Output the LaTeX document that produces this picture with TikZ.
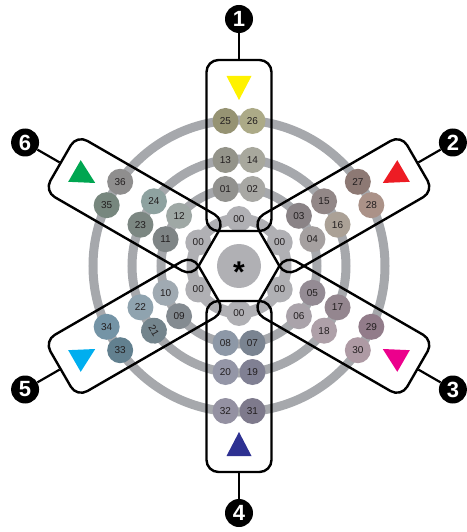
\documentclass[tikz,border=0pt]{standalone}
\usepackage{fontspec}
\setmainfont{Liberation Sans}
\usetikzlibrary{positioning,calc}
\definecolor{ringgrey}{RGB}{166,168,172}
\definecolor{hubgrey}{RGB}{176,176,180}
\definecolor{inkgrey}{RGB}{35,31,32}
% arm 1
\definecolor{c01}{RGB}{146,146,143}
\definecolor{c02}{RGB}{168,168,164}
\definecolor{c13}{RGB}{148,148,138}
\definecolor{c14}{RGB}{168,168,157}
\definecolor{c25}{RGB}{150,147,115}
\definecolor{c26}{RGB}{172,170,135}
% arm 2
\definecolor{c03}{RGB}{138,131,134}
\definecolor{c04}{RGB}{165,160,160}
\definecolor{c15}{RGB}{146,135,135}
\definecolor{c16}{RGB}{171,161,150}
\definecolor{c27}{RGB}{141,121,116}
\definecolor{c28}{RGB}{171,146,136}
% arm 3
\definecolor{c05}{RGB}{148,139,148}
\definecolor{c06}{RGB}{170,163,170}
\definecolor{c17}{RGB}{148,134,143}
\definecolor{c18}{RGB}{174,160,168}
\definecolor{c29}{RGB}{146,124,138}
\definecolor{c30}{RGB}{174,154,164}
% arm 4
\definecolor{c07}{RGB}{122,132,145}
\definecolor{c08}{RGB}{141,152,167}
\definecolor{c19}{RGB}{128,128,147}
\definecolor{c20}{RGB}{148,150,167}
\definecolor{c31}{RGB}{126,122,140}
\definecolor{c32}{RGB}{148,145,162}
% arm 5
\definecolor{c09}{RGB}{132,139,145}
\definecolor{c10}{RGB}{160,170,178}
\definecolor{c21}{RGB}{116,133,141}
\definecolor{c22}{RGB}{143,163,175}
\definecolor{c33}{RGB}{98,128,143}
\definecolor{c34}{RGB}{116,148,166}
% arm 6
\definecolor{c11}{RGB}{127,133,134}
\definecolor{c12}{RGB}{159,168,165}
\definecolor{c23}{RGB}{124,135,130}
\definecolor{c24}{RGB}{142,162,160}
\definecolor{c35}{RGB}{119,135,126}
\definecolor{c36}{RGB}{143,142,142}
% pointers
\definecolor{tri1}{RGB}{255,242,0}
\definecolor{tri2}{RGB}{237,28,36}
\definecolor{tri3}{RGB}{236,0,140}
\definecolor{tri4}{RGB}{46,49,146}
\definecolor{tri5}{RGB}{0,174,239}
\definecolor{tri6}{RGB}{0,166,81}

\begin{document}
\begin{tikzpicture}[x=1pt, y=1pt, font=\fontsize{10}{12}\selectfont,
  bubble/.style={circle, minimum size=26pt, inner sep=0pt, text=inkgrey},
  zero/.style={bubble, fill=hubgrey},
  armbox/.style={rectangle, draw=black, line width=2.4pt, rounded corners=12pt, minimum width=65pt, minimum height=171pt, inner sep=0pt},
  armtag/.style={circle, fill=black, minimum size=28pt, inner sep=0pt, text=white, font=\fontsize{22}{22}\selectfont\bfseries},
  tagline/.style={line width=2.2pt}]
  \useasboundingbox (-239,-266) rectangle (227,266);

  % rings
  \foreach \rad in {78,107,146}
    \draw[ringgrey, line width=9pt] (0,0) circle (\rad);
  \draw[hubgrey, line width=11pt] (0,0) circle (47);
  \node[circle, fill=hubgrey, minimum size=44pt, inner sep=0pt, font=\fontsize{30}{30}\selectfont\bfseries] (hub) {\smash{\raisebox{-0.56em}{*}}};

  % bubbles
  \foreach \i/\a/\ia/\ib/\ma/\mb/\oa/\ob in {1/90/01/02/13/14/25/26, 2/30/03/04/15/16/27/28, 3/-30/05/06/17/18/29/30, 4/-90/07/08/19/20/31/32, 5/-150/09/10/21/22/33/34, 6/150/11/12/23/24/35/36} {
    \begin{scope}[rotate=\a-90]
      \node[zero] (z\i) at (0,47) {00};
      \node[bubble, fill=c\ia] (n\ia) at (-13.5,77) {\ia};
      \node[bubble, fill=c\ib] (n\ib) at (13.5,77) {\ib};
      \node[bubble, fill=c\ma, rotate={(\ma==21)*(-60)}] (n\ma) at (-13.5,106) {\ma};
      \node[bubble, fill=c\mb] (n\mb) at (13.5,106) {\mb};
      \node[bubble, fill=c\oa] (n\oa) at (-13.5,145) {\oa};
      \node[bubble, fill=c\ob] (n\ob) at (13.5,145) {\ob};
    \end{scope}
  }

  % arms, pointers and tags
  \foreach \i/\a in {1/90, 2/30, 3/-30, 4/-90, 5/-150, 6/150} {
    \begin{scope}[rotate=\a-90]
      \node[armbox, rotate=\a-90] (box\i) at (0,120.5) {};
      \fill[tri\i] (-12.5,190) -- (12.5,190) -- (0,166) -- cycle;
      \node[armtag] (tag\i) at (0,247) {\i};
    \end{scope}
    \draw[tagline] (box\i.north) -- (tag\i);
  }
\end{tikzpicture}
\end{document}
